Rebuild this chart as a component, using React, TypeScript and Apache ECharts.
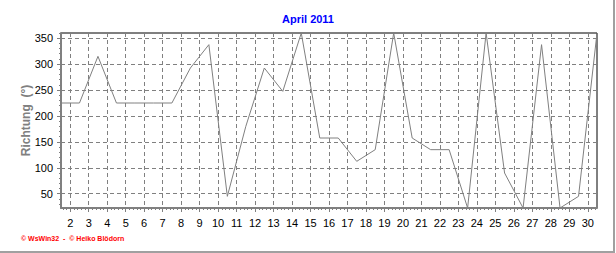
import React, { useEffect, useRef } from "react";
import * as echarts from "echarts";

const days = [1,2,3,4,5,6,7,8,9,10,11,12,13,14,15,16,17,18,19,20,21,22,23,24,25,26,27,28,29,30];
const direction = [225,225,315,225,225,225,225,292.5,337.5,45,180,292.5,247.5,360,157.5,157.5,112.5,135,360,157.5,135,135,22.5,360,90,22.5,337.5,22.5,45,360];
const xTickLabels = [2,3,4,5,6,7,8,9,10,11,12,13,14,15,16,17,18,19,20,21,22,23,24,25,26,27,28,29,30];
const yTickLabels = [50,100,150,200,250,300,350];

const X_MIN = 1.5, X_MAX = 30.5, Y_MIN = 22.5, Y_MAX = 360;

export default function App() {
  const ref = useRef<HTMLDivElement>(null);
  useEffect(() => {
    if (!ref.current) return;
    const chart = echarts.init(ref.current, null, { renderer: "svg" });
    const xMinor: number[] = [];
    for (let k = Math.ceil(X_MIN * 5); k <= Math.floor(X_MAX * 5); k++) {
      if (k % 5 !== 0) xMinor.push(k / 5);
    }
    const yMinor: number[] = [];
    for (let v = 30; v <= Y_MAX; v += 10) {
      if (v % 50 !== 0) yMinor.push(v);
    }
    const font = "Liberation Sans";
    const gray = "#808080";
    chart.setOption({
      animation: false,
      backgroundColor: "#fff",
      title: {
        text: "April 2011",
        left: "center",
        top: 13,
        padding: 0,
        textStyle: { color: "#0000ff", fontFamily: font, fontWeight: "bold", fontSize: 11 },
      },
      grid: {
        left: 61, right: 19, top: 33, bottom: 45,
        show: true, borderColor: "#000", borderWidth: 1, backgroundColor: "transparent",
      },
      xAxis: [
        {
          type: "value", min: X_MIN, max: X_MAX, position: "bottom",
          axisLine: { show: true, lineStyle: { color: gray, width: 2 } },
          axisTick: { show: true, length: 4, customValues: xTickLabels, lineStyle: { color: gray } },
          axisLabel: { customValues: xTickLabels, margin: 9, color: "#000", fontFamily: font, fontSize: 11 },
          splitLine: { show: true, lineStyle: { color: gray, type: [4, 3], width: 1 } },
        },
        {
          type: "value", min: X_MIN, max: X_MAX, position: "bottom", gridIndex: 0,
          axisLine: { show: false },
          axisTick: { show: true, length: 2, customValues: xMinor, lineStyle: { color: gray } },
          axisLabel: { show: false },
          splitLine: { show: false },
        },
      ],
      yAxis: [
        {
          type: "value", min: Y_MIN, max: Y_MAX, position: "left",
          name: "Richtung  (°)", nameLocation: "middle", nameGap: 29, nameRotate: 90,
          nameMoveOverlap: false,
          nameTextStyle: { color: gray, fontFamily: font, fontWeight: "bold", fontSize: 12 },
          axisLine: { show: true, lineStyle: { color: gray, width: 2 } },
          axisTick: { show: true, length: 4, customValues: yTickLabels, lineStyle: { color: gray } },
          axisLabel: { customValues: yTickLabels, margin: 8, color: "#000", fontFamily: font, fontSize: 11 },
          splitLine: { show: true, lineStyle: { color: gray, type: [4, 3], width: 1 } },
        },
        {
          type: "value", min: Y_MIN, max: Y_MAX, position: "left", gridIndex: 0,
          axisLine: { show: false },
          axisTick: { show: true, length: 2, customValues: yMinor, lineStyle: { color: gray } },
          axisLabel: { show: false },
          splitLine: { show: false },
        },
      ],
      series: [
        {
          type: "line",
          xAxisIndex: 0, yAxisIndex: 0,
          data: days.map((d, i) => [d + 0.5, direction[i]]),
          symbol: "none",
          lineStyle: { color: gray, width: 1 },
          clip: false,
        },
      ],
      graphic: [
        { type: "rect", shape: { x: 613, y: 0, width: 2, height: 251 }, style: { fill: "#a0a0a0" }, silent: true },
        { type: "rect", shape: { x: 0, y: 251, width: 615, height: 2 }, style: { fill: "#a0a0a0" }, silent: true },
        {
          type: "text", left: 21, top: 235,
          style: { text: "© WsWin32  -  © Heiko Blödorn", fill: "#ff0000", font: "bold 7px 'Liberation Sans'" },
        },
      ],
    });
    return () => chart.dispose();
  }, []);
  return <div ref={ref} style={{ position: "absolute", left: 0, top: 0, width: 616, height: 253 }} />;
}
